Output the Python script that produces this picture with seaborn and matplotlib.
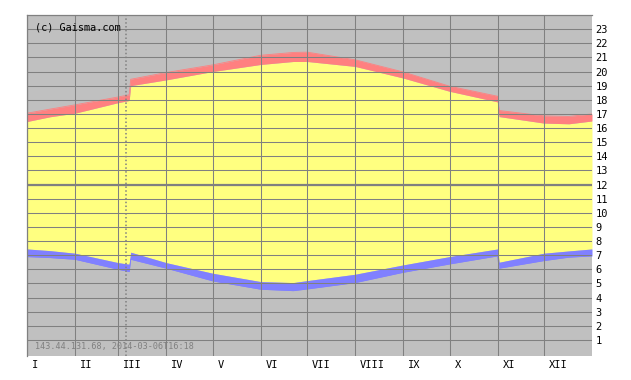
import numpy as np
import pandas as pd
import seaborn as sns
import matplotlib
matplotlib.use("Agg")
import matplotlib.pyplot as plt
from matplotlib import transforms

# ---- data ----
months = ["I", "II", "III", "IV", "V", "VI", "VII", "VIII", "IX", "X", "XI", "XII"]
month_start_days = [0, 31, 59, 90, 120, 151, 181, 212, 243, 273, 304, 334]
hour_ticks = list(range(1, 24))

days = [0, 15, 31, 59, 66, 67, 90, 120, 151, 172, 181, 212, 243, 273, 304, 305, 334, 350, 365]
dawn = [6.90, 6.83, 6.71, 6.00, 5.84, 6.71, 6.08, 5.18, 4.59, 4.49, 4.61, 5.06, 5.79, 6.38, 6.95, 6.08, 6.62, 6.86, 6.95]
sunrise = [7.44, 7.32, 7.14, 6.47, 6.36, 7.21, 6.47, 5.72, 5.13, 5.06, 5.20, 5.65, 6.31, 6.90, 7.44, 6.50, 7.14, 7.30, 7.44]
sunset = [16.46, 16.80, 17.05, 17.80, 17.95, 19.00, 19.41, 20.00, 20.50, 20.71, 20.71, 20.36, 19.54, 18.60, 17.85, 16.81, 16.35, 16.30, 16.50]
dusk = [17.05, 17.34, 17.64, 18.20, 18.35, 19.45, 19.93, 20.47, 21.15, 21.35, 21.37, 20.83, 19.97, 18.96, 18.25, 17.24, 16.86, 16.82, 17.00]
today_day = 64
copyright_text = "(c) Gaisma.com"
stamp_text = "143.44.131.68, 2014-03-06T16:18"

df = pd.DataFrame({"day": days, "dawn": dawn, "sunrise": sunrise,
                   "sunset": sunset, "dusk": dusk})

# ---- style ----
sns.set_style("white")
plt.rcParams["font.family"] = ["DejaVu Sans Mono", "DejaVu Sans"]

GRAY_BG = "#C0C0C0"
GRID = "#808080"
YELLOW = "#FFFF80"
RED = "#FF8080"
BLUE = "#8080FF"

W, H = 631, 380
fig = plt.figure(figsize=(W / 100, H / 100), dpi=100)
fig.patch.set_facecolor("white")
ax = fig.add_axes([27 / W, (H - 356) / H, 565 / W, 341 / H])
ax.set_facecolor(GRAY_BG)

# fills
ax.fill_between(df["day"], df["sunrise"], df["sunset"], color=YELLOW, lw=0, zorder=1)
ax.fill_between(df["day"], df["sunset"], df["dusk"], color=RED, lw=0, zorder=1)
ax.fill_between(df["day"], df["dawn"], df["sunrise"], color=BLUE, lw=0, zorder=1)

# thin edges via seaborn
sns.lineplot(data=df, x="day", y="dusk", color=RED, lw=0.6, ax=ax, zorder=2)
sns.lineplot(data=df, x="day", y="dawn", color=BLUE, lw=0.6, ax=ax, zorder=2)

ax.set_xlim(0, 365)
ax.set_ylim(-0.135, 24)

# grid
ax.set_xticks(month_start_days)
ax.set_xticklabels(months)
ax.set_yticks(hour_ticks)
ax.set_yticklabels([str(h) for h in hour_ticks])
ax.grid(True, color=GRID, lw=0.75, zorder=3)
ax.set_axisbelow(False)
ax.axhline(12, color=GRID, lw=1.6, zorder=3)

ax.axvline(today_day, ymin=-0.0, ymax=1, color=GRID, lw=1.1, ls=(0, (1, 1.5)), zorder=4)

ax.yaxis.tick_right()
ax.tick_params(axis="both", length=0, labelsize=7.5, colors="black")
ax.tick_params(axis="y", pad=2.5)
ax.tick_params(axis="x", pad=3)
offset = transforms.ScaledTranslation(5 / 100, 0, fig.dpi_scale_trans)
for lab in ax.get_xticklabels():
    lab.set_horizontalalignment("left")
    lab.set_transform(lab.get_transform() + offset)

ax.set_xlabel("")
ax.set_ylabel("")

for side in ["right", "bottom"]:
    ax.spines[side].set_visible(False)
for side in ["left", "top"]:
    ax.spines[side].set_color(GRID)
    ax.spines[side].set_linewidth(0.9)

fig.text(35 / W, 1 - 28 / H, copyright_text, fontsize=7.3, color="black",
         ha="left", va="center")
fig.text(35 / W, 1 - 347 / H, stamp_text, fontsize=6.1, color=GRID,
         ha="left", va="center")

fig.savefig("out.png", dpi=100)
